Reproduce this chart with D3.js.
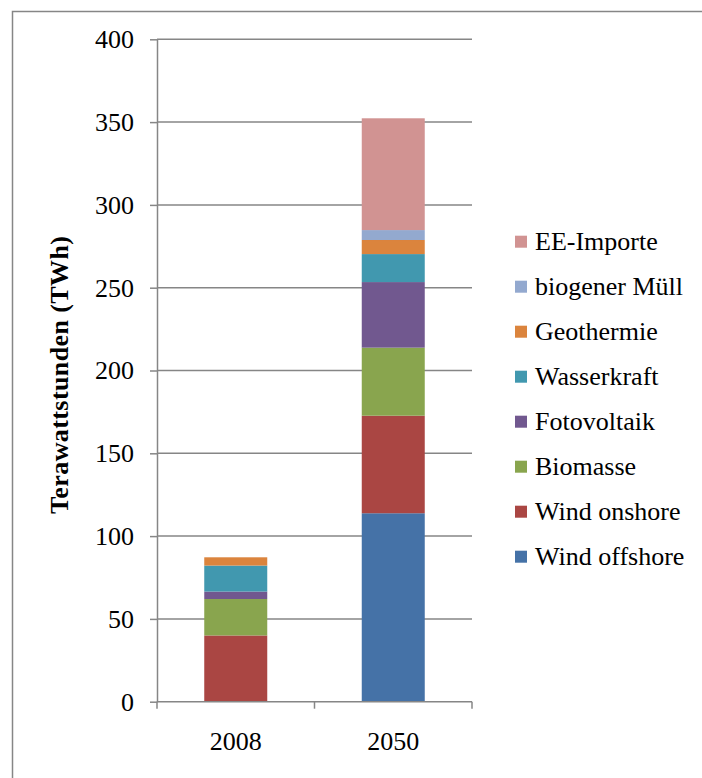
<!DOCTYPE html>
<html>
<head>
<meta charset="utf-8">
<script src="https://cdn.jsdelivr.net/npm/d3@7"></script>
<style>
  html, body { margin: 0; padding: 0; background: #fff; }
</style>
</head>
<body>
<svg id="chart" width="702" height="778"></svg>
<script>
// Years shown on the x axis
const years = ["2008", "2050"];

// Energy sources, bottom to top of each stack
const sources = ["Wind offshore", "Wind onshore", "Biomasse", "Fotovoltaik",
                 "Wasserkraft", "Geothermie", "biogener Müll", "EE-Importe"];

// Generation per source in TWh, one entry per year
const windOffshore = [0, 113.8];
const windOnshore  = [40, 58.9];
const biomasse     = [22, 41.1];
const fotovoltaik  = [4.5, 39.6];
const wasserkraft  = [15.7, 16.9];
const geothermie   = [5, 8.5];
const biogenerMuell = [0, 6.0];
const eeImporte    = [0, 67.5];

// Y axis tick values
const yTicks = [0, 50, 100, 150, 200, 250, 300, 350, 400];

const colors = ["#4572A7", "#AA4643", "#89A54E", "#71588F",
                "#4198AF", "#DB843D", "#93A9CF", "#D19392"];

const seriesValues = [windOffshore, windOnshore, biomasse, fotovoltaik,
                      wasserkraft, geothermie, biogenerMuell, eeImporte];

const rows = years.map((y, i) => {
  const r = { year: y };
  sources.forEach((s, k) => { r[s] = seriesValues[k][i]; });
  return r;
});

const svg = d3.select("#chart");
const axisColor = "#868686";
const serif = "'Liberation Serif'";

// Outer frame
svg.append("rect")
  .attr("x", 12.5).attr("y", 11.5)
  .attr("width", 760).attr("height", 820)
  .attr("fill", "none").attr("stroke", axisColor).attr("stroke-width", 1.5);

const x = d3.scaleBand().domain(years).range([157, 472])
  .paddingInner(0.6).paddingOuter(0.3);
const y = d3.scaleLinear().domain([0, 400]).range([701.7, 39.3]);
const color = d3.scaleOrdinal().domain(sources).range(colors);

// Horizontal gridlines
svg.append("g").selectAll("line").data(yTicks.filter(t => t > 0)).join("line")
  .attr("x1", 157).attr("x2", 472)
  .attr("y1", d => y(d)).attr("y2", d => y(d))
  .attr("stroke", axisColor).attr("stroke-width", 1.5);

// Stacked bars
const stacked = d3.stack().keys(sources)(rows);
svg.append("g").selectAll("g").data(stacked).join("g")
  .attr("fill", d => color(d.key))
  .selectAll("rect").data(d => d).join("rect")
  .attr("x", d => x(d.data.year))
  .attr("width", x.bandwidth())
  .attr("y", d => y(d[1]))
  .attr("height", d => y(d[0]) - y(d[1]));

// Y axis
const yAxis = svg.append("g").attr("transform", "translate(157,0)")
  .call(d3.axisLeft(y).tickValues(yTicks).tickSize(7).tickPadding(16).tickSizeOuter(0));
yAxis.attr("font-family", null).attr("font-size", null);
yAxis.select(".domain").attr("stroke", axisColor).attr("stroke-width", 1.5);
yAxis.selectAll(".tick line").attr("stroke", axisColor).attr("stroke-width", 1.5);
yAxis.selectAll(".tick text")
  .style("font-family", serif)
  .attr("font-size", 26).attr("fill", "#000");

// X axis
const xAxis = svg.append("g").attr("transform", `translate(0,${y(0)})`)
  .call(d3.axisBottom(x).tickSize(0).tickPadding(30).tickSizeOuter(0));
xAxis.attr("font-family", null).attr("font-size", null);
xAxis.select(".domain").remove();
xAxis.append("line").attr("x1", 157).attr("x2", 472)
  .attr("stroke", axisColor).attr("stroke-width", 1.5);
xAxis.selectAll(".catTick").data([157, 314.5, 472]).join("line")
  .attr("class", "catTick")
  .attr("x1", d => d).attr("x2", d => d).attr("y1", 0).attr("y2", 7)
  .attr("stroke", axisColor).attr("stroke-width", 1.5);
xAxis.selectAll(".tick text")
  .style("font-family", serif)
  .attr("font-size", 26).attr("fill", "#000");

// Y axis title
svg.append("text")
  .attr("transform", "translate(68,375) rotate(-90)")
  .attr("text-anchor", "middle")
  .style("font-family", serif)
  .attr("font-size", 26).attr("font-weight", "bold")
  .attr("textLength", 278).attr("lengthAdjust", "spacing")
  .text("Terawattstunden (TWh)");

// Legend, top entry is the top of the stack
const legendOrder = sources.slice().reverse();
const legend = svg.append("g").selectAll("g").data(legendOrder).join("g")
  .attr("transform", (d, i) => `translate(515,${241.7 + 45 * i})`);
legend.append("rect")
  .attr("x", 0).attr("y", -6).attr("width", 12).attr("height", 12)
  .attr("fill", d => color(d));
legend.append("text")
  .attr("x", 20).attr("dy", "0.33em")
  .style("font-family", serif)
  .attr("font-size", 26).attr("fill", "#000")
  .text(d => d);
</script>
</body>
</html>
